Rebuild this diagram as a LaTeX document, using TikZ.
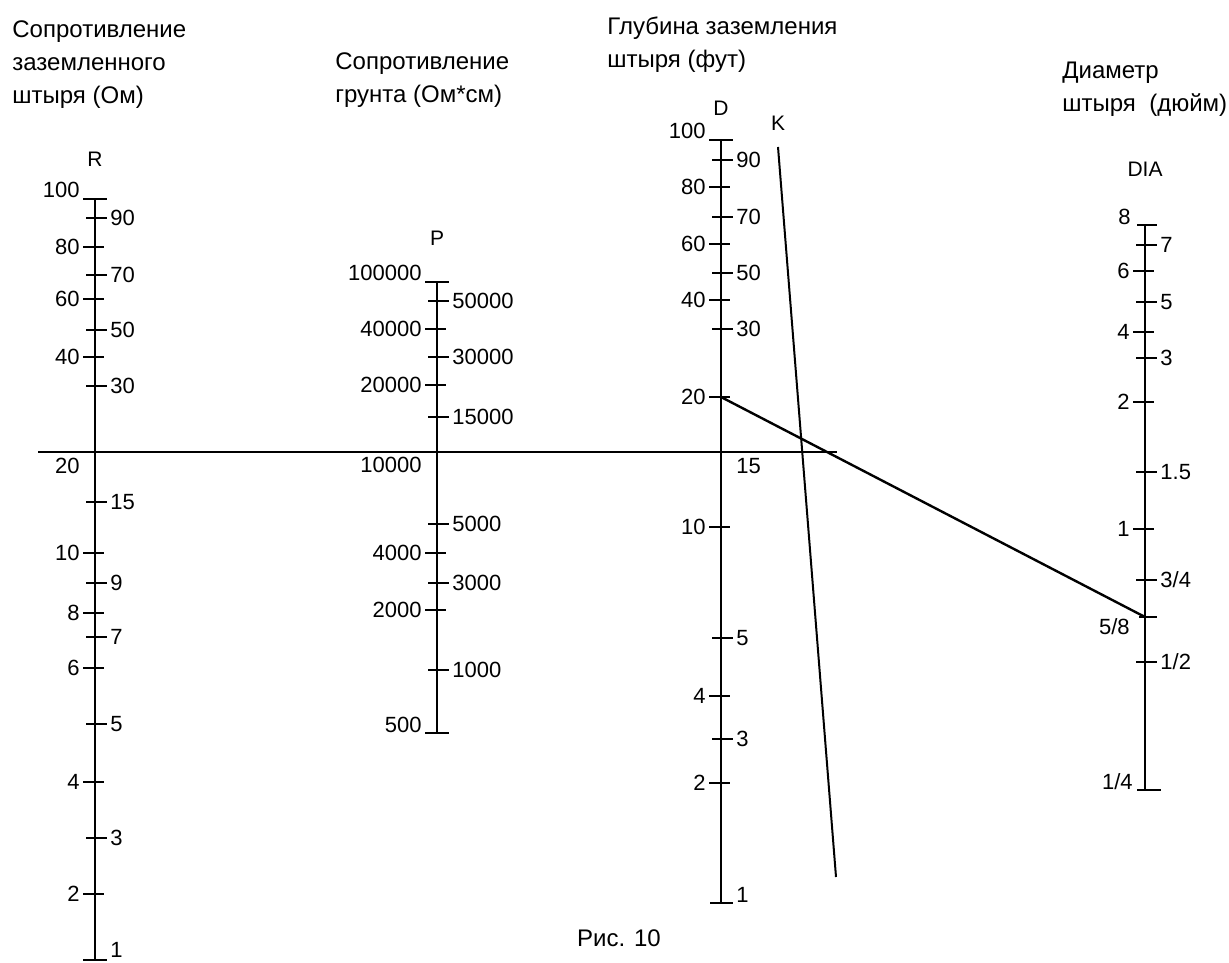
\documentclass[tikz,border=0pt]{standalone}
\usepackage{fontspec}
\setmainfont{Liberation Sans}
\usetikzlibrary{positioning}

\begin{document}
\begin{tikzpicture}[x=0.5pt,y=-0.5pt]
\tikzset{axis/.style={line width=1pt},
  tick/.style={line width=1pt},
  num/.style={font=\fontsize{11}{13}\selectfont,inner sep=1pt},
  letter/.style={font=\fontsize{10.5}{12}\selectfont,inner sep=0pt},
  title/.style={font=\fontsize{12}{16.5}\selectfont,align=left,anchor=north west,inner sep=0pt},
  guide/.style={line width=1.2pt}}
\useasboundingbox (0,0) rectangle (1229,962);

% titles
\node[title] (title-R) at (12,20) {Сопротивление\\заземленного\\штыря (Ом)};
\node[title] (title-P) at (335,52) {Сопротивление\\грунта (Ом*см)};
\node[title] (title-D) at (607,17) {Глубина заземления\\штыря (фут)};
\node[title] (title-DIA) at (1062,62) {Диаметр\\штыря\ \ (дюйм)};

% R scale
\coordinate (R-top) at (95,199);
\coordinate (R-bot) at (95,960);
\draw[axis] (R-top) -- (R-bot);
\node[letter, above=16pt of R-top] (R) {R};
\foreach \y/\v in {247/80, 299/60, 357/40, 553/10, 613/8, 668/6, 782/4, 894/2}
  {\draw[tick] (83,\y) -- (104,\y); \node[num,anchor=east] at (82,\y) {\v};}
\foreach \y/\v in {218/90, 275/70, 330/50, 386/30, 502/15, 583/9, 637/7, 724/5, 838/3}
  {\draw[tick] (86,\y) -- (107,\y); \node[num,anchor=west] at (108,\y) {\v};}
\draw[tick] (83,199) -- (107,199); \node[num,anchor=south east] at (82,200) {100};
\node[num,anchor=north east] at (82,456) {20};
\draw[tick] (83,960) -- (107,960); \node[num,anchor=south west] at (108,960) {1};

% P scale
\coordinate (P-top) at (437,282);
\coordinate (P-bot) at (437,733);
\draw[axis] (P-top) -- (P-bot);
\node[letter, above=18pt of P-top] (P) {P};
\foreach \y/\v in {329/40000, 385/20000, 553/4000, 610/2000}
  {\draw[tick] (425,\y) -- (446,\y); \node[num,anchor=east] at (424,\y) {\v};}
\foreach \y/\v in {301/50000, 357/30000, 417/15000, 524/5000, 583/3000, 670/1000}
  {\draw[tick] (428,\y) -- (449,\y); \node[num,anchor=west] at (450,\y) {\v};}
\draw[tick] (425,282) -- (449,282); \node[num,anchor=south east] at (424,283) {100000};
\node[num,anchor=north east] at (424,455) {10000};
\draw[tick] (425,733) -- (449,733); \node[num,anchor=south east] at (424,735) {500};

% D scale
\coordinate (D-top) at (721,140);
\coordinate (D-bot) at (721,903);
\coordinate (D-20) at (721,397);
\draw[axis] (D-top) -- (D-bot);
\node[letter, above=12pt of D-top] (D) {D};
\foreach \y/\v in {187/80, 244/60, 300/40, 397/20, 527/10, 696/4, 783/2}
  {\draw[tick] (709,\y) -- (730,\y); \node[num,anchor=east] at (708,\y) {\v};}
\foreach \y/\v in {160/90, 217/70, 273/50, 329/30, 638/5, 739/3}
  {\draw[tick] (712,\y) -- (733,\y); \node[num,anchor=west] at (734,\y) {\v};}
\draw[tick] (709,140) -- (733,140); \node[num,anchor=south east] at (708,141) {100};
\node[num,anchor=north west] at (734,456) {15};
\draw[tick] (710,903) -- (733,903); \node[num,anchor=south west] at (734,905) {1};

% K line
\coordinate (K-top) at (778,147);
\coordinate (K-bot) at (836,877);
\node[letter, above=8pt of K-top] (K) {K};
\draw[guide, line width=1pt] (K-top) -- (K-bot);

% DIA scale
\coordinate (DIA-top) at (1145,225);
\coordinate (DIA-bot) at (1145,790);
\coordinate (DIA-58) at (1145,617);
\draw[axis] (DIA-top) -- (DIA-bot);
\node[letter, above=24pt of DIA-top] (DIA) {DIA};
\foreach \y/\v in {271/6, 332/4, 402/2, 529/1}
  {\draw[tick] (1133,\y) -- (1154,\y); \node[num,anchor=east] at (1132,\y) {\v};}
\foreach \y/\v in {245/7, 302/5, 358/3, 472/1.5, 580/{3/4}, 662/{1/2}}
  {\draw[tick] (1136,\y) -- (1157,\y); \node[num,anchor=west] at (1158,\y) {\v};}
\draw[tick] (1137,225) -- (1157,225); \node[num,anchor=south east] at (1133,227) {8};
\draw[tick] (1139,617) -- (1157,617); \node[num,anchor=north east] at (1132,616) {5/8};
\draw[tick] (1137,790) -- (1161,790); \node[num,anchor=south east] at (1135,792) {1/4};

% key lines
\coordinate (h-start) at (38,452);
\coordinate (h-end) at (837,452);
\draw[guide] (h-start) -- (h-end);
\draw[guide] (D-20) -- (DIA-58);

\node[font=\fontsize{12}{14}\selectfont] (caption) at (619,938) {Рис. 10};
\end{tikzpicture}
\end{document}
